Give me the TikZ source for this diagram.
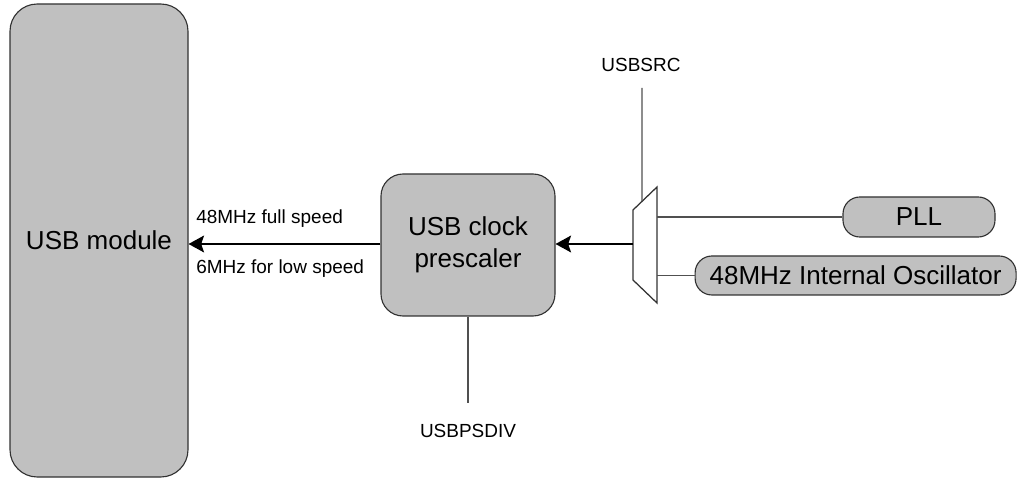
\documentclass[tikz,border=0pt]{standalone}
\usepackage{fontspec}
\setmainfont{Liberation Sans}
\definecolor{boxgray}{RGB}{192, 192, 192}
\definecolor{edgegray}{RGB}{50, 50, 50}
\definecolor{wiregray}{RGB}{80, 80, 80}
\usetikzlibrary{arrows.meta, positioning, calc}
\tikzset{
  graybox/.style={draw=edgegray, fill=boxgray, line width=0.8pt, font=\fontsize{18.5}{22}\selectfont, align=center, inner sep=0pt},
  pill/.style={graybox, rounded corners=0.42cm},
  wire/.style={draw=wiregray, line width=0.9pt},
  sigarrow/.style={draw=black, line width=0.8pt, -{Stealth[length=11pt, width=12pt, inset=2pt]}},
  smalllabel/.style={font=\fontsize{13.5}{16}\selectfont, inner sep=0pt}
}
\begin{document}
\begin{tikzpicture}
  \useasboundingbox (0, 0) rectangle (25.425, 11.975);

  % USB module and prescaler
  \node[graybox, rounded corners=0.68cm, minimum width=4.45cm, minimum height=11.825cm] (usb) at (2.475, 5.9625) {USB module};
  \node[graybox, rounded corners=0.55cm, minimum width=4.35cm, minimum height=3.55cm] (presc) at (11.7, 5.85) {USB clock\\[1pt]prescaler};

  % Clock sources
  \node[pill, minimum width=3.8cm, minimum height=1.0cm] (pll) at (22.975, 6.55) {PLL};
  \node[pill, minimum width=8.025cm, minimum height=0.975cm] (osc) at (21.39, 5.0875) {48MHz Internal Oscillator};

  % Multiplexer
  \coordinate (muxtl) at (15.825, 6.725);
  \coordinate (muxtr) at (16.425, 7.3);
  \coordinate (muxbr) at (16.425, 4.4);
  \coordinate (muxbl) at (15.825, 4.975);
  \draw[wire, draw=edgegray] (muxtl) -- (muxtr) -- (muxbr) -- (muxbl) -- cycle;
  \coordinate (muxout) at (15.825, 5.875);
  \coordinate (muxsel) at ($(muxtl)!0.375!(muxtr)$);

  % Inputs to multiplexer
  \draw[wire] (pll.west) -- (pll.west -| muxtr);
  \draw[wire] (osc.west) -- (osc.west -| muxtr);

  % Select lines
  \node[smalllabel] (usbsrc) at (16.025, 10.35) {USBSRC};
  \coordinate (srctop) at (16.05, 9.775);
  \draw[wire] (srctop) -- (muxsel);
  \node[smalllabel] (usbpsdiv) at (11.7, 1.2) {USBPSDIV};
  \coordinate (divbot) at (11.7, 1.9);
  \draw[wire] (presc.south) -- (divbot);

  % Clock path
  \draw[sigarrow] (muxout) -- (muxout -| presc.east);
  \draw[sigarrow] (muxout -| presc.west) -- (muxout -| usb.east);
  \node[smalllabel, anchor=west] (fullspd) at (4.9, 6.5) {48MHz full speed};
  \node[smalllabel, anchor=west] (lowspd) at (4.9, 5.25) {6MHz for low speed};
\end{tikzpicture}
\end{document}
